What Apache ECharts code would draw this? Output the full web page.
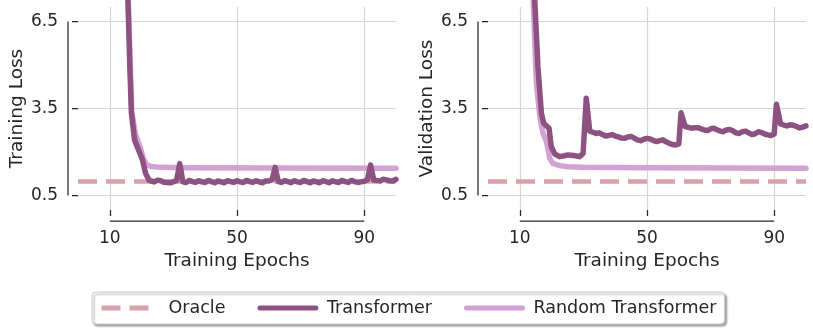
<!DOCTYPE html>
<html><head><meta charset="utf-8">
<script src="https://cdn.jsdelivr.net/npm/echarts@6/dist/echarts.min.js"></script>
<style>html,body{margin:0;padding:0;background:#fff}#c{width:813px;height:331px}</style>
</head><body><div id="c"></div>
<script>
// ---- data ----
const xTicks = [10, 50, 90];
const yTicks = [0.5, 3.5, 6.5];
const xRange = [0, 100];
const yRange = [0, 7];
const oracleLoss = 0.98;

const trainTransformer = [
  [15.0, 10.5], [15.7, 7.24], [16.3, 4.93], [16.8, 3.34], [17.8, 2.41], [19.3, 2.0], [20.3, 1.72], [21.2, 1.28], [22.3, 1.03],
  [23, 1.00], [24, 0.97], [25, 1.03], [26, 1.01], [27, 0.96], [28, 0.95], [29, 0.94], [30, 0.97], [31, 1.02], [32, 1.60],
  [33, 0.97], [34, 0.95], [35, 1.02], [36, 0.98], [37, 0.95], [38, 1.01], [39, 0.97], [40, 0.95], [41, 1.02], [42, 0.98],
  [43, 0.94], [44, 1.00], [45, 0.97], [46, 0.94], [47, 1.01], [48, 0.98], [49, 0.95], [50, 1.01], [51, 0.97], [52, 0.95],
  [53, 1.02], [54, 0.98], [55, 0.95], [56, 1.01], [57, 0.97], [58, 0.94], [59, 1.00], [60, 1.00], [61, 1.04], [62, 1.47],
  [63, 0.98], [64, 0.95], [65, 1.01], [66, 0.98], [67, 0.94], [68, 1.01], [69, 0.97], [70, 0.95], [71, 1.02], [72, 0.98],
  [73, 0.94], [74, 1.00], [75, 0.97], [76, 0.94], [77, 1.01], [78, 0.98], [79, 0.94], [80, 1.01], [81, 0.97], [82, 0.95],
  [83, 1.02], [84, 0.98], [85, 0.95], [86, 1.02], [87, 0.98], [88, 0.95], [89, 0.97], [90, 0.99], [91, 1.04], [92, 1.55],
  [93, 1.03], [94, 1.02], [95, 1.00], [96, 1.06], [97, 1.04], [98, 1.01], [99, 1.00], [100, 1.06]
];
const trainRandom = [
  [15.1, 10.5], [15.8, 7.24], [16.9, 3.4], [18.1, 2.6], [19.6, 2.15], [20.6, 1.75], [21.6, 1.57], [23, 1.5], [26, 1.47],
  [35, 1.46], [60, 1.45], [100, 1.44]
];
const valTransformer = [
  [14.0, 11.0], [14.7, 7.24], [15.7, 4.94], [16.8, 3.33], [17.5, 3.0], [18.1, 2.93], [19.2, 2.82], [19.9, 2.18], [21, 1.93],
  [22.5, 1.84], [24, 1.87], [25.2, 1.9], [27, 1.88], [28.8, 1.84], [29.9, 1.95], [30.9, 3.85], [32, 2.72],
  [33, 2.68], [34, 2.64], [35, 2.66], [36, 2.60], [37, 2.55], [38, 2.57], [39, 2.60], [40, 2.55], [41, 2.52], [42, 2.48],
  [43, 2.47], [44, 2.52], [45, 2.54], [46, 2.48], [47, 2.42], [48, 2.39], [49, 2.44], [50, 2.47], [51, 2.45], [52, 2.40],
  [53, 2.36], [54, 2.39], [55, 2.42], [56, 2.35], [57, 2.30], [58, 2.26], [59, 2.24], [60, 2.28], [60.7, 3.35], [62, 2.88],
  [63, 2.85], [64, 2.82], [65, 2.84], [66, 2.84], [67, 2.80], [68, 2.76], [69, 2.74], [70, 2.80], [71, 2.82], [72, 2.77],
  [73, 2.72], [74, 2.70], [75, 2.76], [76, 2.78], [77, 2.73], [78, 2.66], [79, 2.64], [80, 2.70], [81, 2.72], [82, 2.66],
  [83, 2.60], [84, 2.63], [85, 2.70], [86, 2.67], [87, 2.62], [88, 2.59], [89, 2.57], [90, 2.62], [90.7, 3.65], [92, 2.97],
  [93, 2.93], [94, 2.90], [95, 2.94], [96, 2.92], [97, 2.88], [98, 2.83], [99, 2.86], [100, 2.90]
];
const valRandom = [
  [13.5, 11.0], [14.2, 7.24], [15.2, 4.37], [16.3, 3.22], [17.3, 2.64], [18.4, 2.36], [19.4, 1.78], [20.4, 1.61],
  [22.5, 1.53], [25, 1.49], [30, 1.47], [50, 1.46], [100, 1.44]
];
const panelTitles = ['Training Loss', 'Validation Loss'];
const xTitle = 'Training Epochs';
const seriesNames = ['Oracle', 'Transformer', 'Random Transformer'];

// ---- style ----
const FONT = 'DejaVu Sans';
const INK = '#262626';
const colors = { Oracle: '#d9a1a9', Transformer: '#8d5282', 'Random Transformer': '#d3a2d4' };
const grids = [
  { left: 78, top: 7, width: 318, height: 203, outerBoundsMode: 'none' },
  { left: 488, top: 7, width: 318, height: 203, outerBoundsMode: 'none' }
];
const X_OFF = 11, Y_OFF = 10;

function xAxis(i) {
  return {
    type: 'value', gridIndex: i, min: xRange[0], max: xRange[1], offset: X_OFF,
    name: xTitle, nameLocation: 'middle', nameGap: 31,
    nameTextStyle: { fontSize: 18.5, color: INK, fontFamily: FONT },
    axisLine: { show: false },
    axisTick: { show: true, length: 6, inside: false, customValues: xTicks, lineStyle: { color: INK, width: 1.25 } },
    axisLabel: { customValues: xTicks, fontSize: 17, color: INK, fontFamily: FONT, margin: 9 },
    splitLine: { show: true, lineStyle: { color: '#d5d5d5', width: 1.2 } }
  };
}
function yAxis(i) {
  return {
    type: 'value', gridIndex: i, min: yRange[0], max: yRange[1], offset: Y_OFF,
    name: panelTitles[i], nameLocation: 'middle', nameGap: i === 0 ? 40 : 41,
    nameTextStyle: { fontSize: 18.5, color: INK, fontFamily: FONT },
    axisLine: { show: false },
    axisTick: { show: true, length: 6, inside: false, customValues: yTicks, lineStyle: { color: INK, width: 1.25 } },
    axisLabel: { customValues: yTicks, fontSize: 17, color: INK, fontFamily: FONT, margin: 10, formatter: v => v.toFixed(1) },
    splitLine: { show: true, lineStyle: { color: '#d5d5d5', width: 1.2 } }
  };
}
function spine(i) {
  return {
    type: 'custom', xAxisIndex: i, yAxisIndex: i, clip: false, silent: true, z: 10,
    data: [[0, 0]],
    renderItem: (params, api) => {
      const a = api.coord([xTicks[0], yRange[0]]);
      const b = api.coord([xTicks[xTicks.length - 1], yRange[0]]);
      const c = api.coord([xRange[0], yTicks[0]]);
      const d = api.coord([xRange[0], yTicks[yTicks.length - 1]]);
      const st = { stroke: INK, lineWidth: 1.25 };
      return { type: 'group', children: [
        { type: 'line', shape: { x1: a[0], y1: a[1] + X_OFF, x2: b[0], y2: b[1] + X_OFF }, style: st },
        { type: 'line', shape: { x1: c[0] - Y_OFF, y1: c[1], x2: d[0] - Y_OFF, y2: d[1] }, style: st }
      ] };
    }
  };
}
function lines(i, trans, rand) {
  return [
    { name: 'Oracle', type: 'line', xAxisIndex: i, yAxisIndex: i, symbol: 'none', z: 2,
      data: [[xRange[0], oracleLoss], [xRange[1], oracleLoss]],
      lineStyle: { color: colors.Oracle, width: 4.5, type: [19, 9], cap: 'butt' }, itemStyle: { color: colors.Oracle } },
    { name: 'Random Transformer', type: 'line', xAxisIndex: i, yAxisIndex: i, symbol: 'none', clip: false, z: 3,
      data: rand, lineStyle: { color: colors['Random Transformer'], width: 5.5, join: 'round', cap: 'round' },
      itemStyle: { color: colors['Random Transformer'] } },
    { name: 'Transformer', type: 'line', xAxisIndex: i, yAxisIndex: i, symbol: 'none', clip: false, z: 4,
      data: trans, lineStyle: { color: colors.Transformer, width: 5.5, join: 'round', cap: 'round' },
      itemStyle: { color: colors.Transformer } }
  ];
}

const chart = echarts.init(document.getElementById('c'), null, { renderer: 'canvas' });
chart.setOption({
  animation: false,
  backgroundColor: '#ffffff',
  textStyle: { fontFamily: FONT },
  grid: grids,
  xAxis: [xAxis(0), xAxis(1)],
  yAxis: [yAxis(0), yAxis(1)],
  legend: {
    left: 92, top: 292, orient: 'horizontal',
    padding: [6, 8, 6, 7], itemWidth: 56, itemHeight: 14, itemGap: 32,
    backgroundColor: '#ffffff', borderColor: '#cccccc', borderWidth: 1, borderRadius: 4,
    shadowColor: 'rgba(0,0,0,0.35)', shadowOffsetX: 2, shadowOffsetY: 2, shadowBlur: 2,
    itemStyle: { opacity: 0 },
    lineStyle: { width: 5 },
    textStyle: { fontSize: 17.5, color: INK, fontFamily: FONT, padding: [0, 0, 0, 6], lineHeight: 20 },
    data: seriesNames.map(n => ({ name: n }))
  },
  series: [
    ...lines(0, trainTransformer, trainRandom),
    ...lines(1, valTransformer, valRandom),
    spine(0), spine(1)
  ]
});
</script>
</body></html>
